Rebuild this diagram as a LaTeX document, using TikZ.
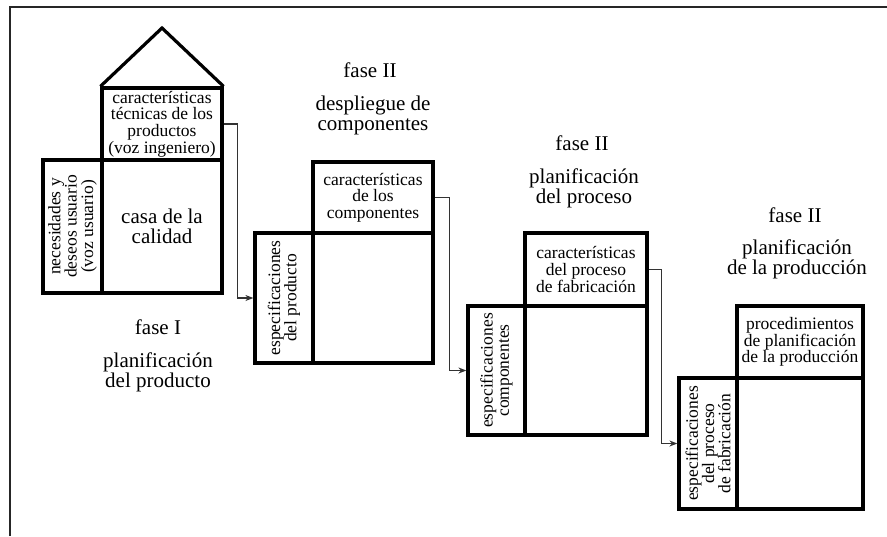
\documentclass[tikz,border=0pt]{standalone}
\usepackage{fontspec}
\setmainfont{Liberation Serif}
\usetikzlibrary{arrows.meta}
\tikzset{
  qbox/.style={draw, line width=3.2pt, inner sep=0pt, align=center,
    font=\fontsize{17.5}{16.7}\selectfont},
  sidebox/.style={qbox, rotate=90, font=\fontsize{17.5}{16.3}\selectfont},
  bigtext/.style={font=\fontsize{21}{20}\selectfont},
  title/.style={align=center, inner sep=0pt, font=\fontsize{21}{20}\selectfont},
  conn/.style={draw=black!80, line width=1.4pt, -{Stealth[length=8pt,width=6pt]}},
  frame/.style={line width=2pt, draw=black!85}
}
\begin{document}
\begin{tikzpicture}[x=1pt,y=-1pt]
\useasboundingbox (0,0) rectangle (887,536);
% frame
\coordinate (fa) at (10,536);
\coordinate (fb) at (10,7);
\coordinate (fc) at (887,7);
\draw[frame] (fa) -- (fb) -- (fc);

% Phase I
\node[qbox, minimum width=120pt, minimum height=72pt] (top1) at (162,124)
  {características\\técnicas de los\\productos\\(voz ingeniero)};
\node[qbox, bigtext, minimum width=120pt, minimum height=133pt] (main1) at (162,226.5)
  {casa de la\\calidad};
\node[sidebox, minimum width=133pt, minimum height=59pt] (left1) at (72.5,226.5)
  {necesidades y\\deseos usuario\\(voz usuario)};
\coordinate (roof) at (162,28);
\draw[line width=3.2pt, line join=miter] (top1.north west) -- (roof) -- (top1.north east);
\node[title] (f1) at (158,327) {fase I};
\node[title] (t1) at (158,372) {planificación\\del producto};

% Phase II
\node[qbox, minimum width=120pt, minimum height=71pt] (top2) at (373,197.5)
  {características\\de los\\componentes};
\node[qbox, minimum width=120pt, minimum height=130pt] (main2) at (373,298) {};
\node[sidebox, minimum width=130pt, minimum height=58pt] (left2) at (284,298)
  {especificaciones\\del producto};
\node[title] (f2) at (370,70) {fase II};
\node[title] (t2) at (373,115) {despliegue de\\componentes};

% Phase III
\node[qbox, minimum width=122pt, minimum height=73pt] (top3) at (586,269.5)
  {características\\del proceso\\de fabricación};
\node[qbox, minimum width=122pt, minimum height=129pt] (main3) at (586,370.5) {};
\node[sidebox, minimum width=129pt, minimum height=57pt] (left3) at (496.5,370.5)
  {especificaciones\\componentes};
\node[title] (f3) at (582,143) {fase II};
\node[title] (t3) at (584,188) {planificación\\del proceso};

% Phase IV
\node[qbox, minimum width=126pt, minimum height=72pt] (top4) at (800,342)
  {procedimientos\\de planificación\\de la producción};
\node[qbox, minimum width=126pt, minimum height=131pt] (main4) at (800,443.5) {};
\node[sidebox, minimum width=131pt, minimum height=58pt] (left4) at (708,443.5)
  {especificaciones\\del proceso\\de fabricación};
\node[title] (f4) at (795,215) {fase II};
\node[title] (t4) at (797,259.5) {planificación\\de la producción};

% connectors
\draw[conn] (top1.east) -- ++(14,0) |- (left2.north);
\draw[conn] (top2.east) -- ++(15,0) |- (left3.north);
\draw[conn] (top3.east) -- ++(13,0) |- (left4.north);
\end{tikzpicture}
\end{document}
